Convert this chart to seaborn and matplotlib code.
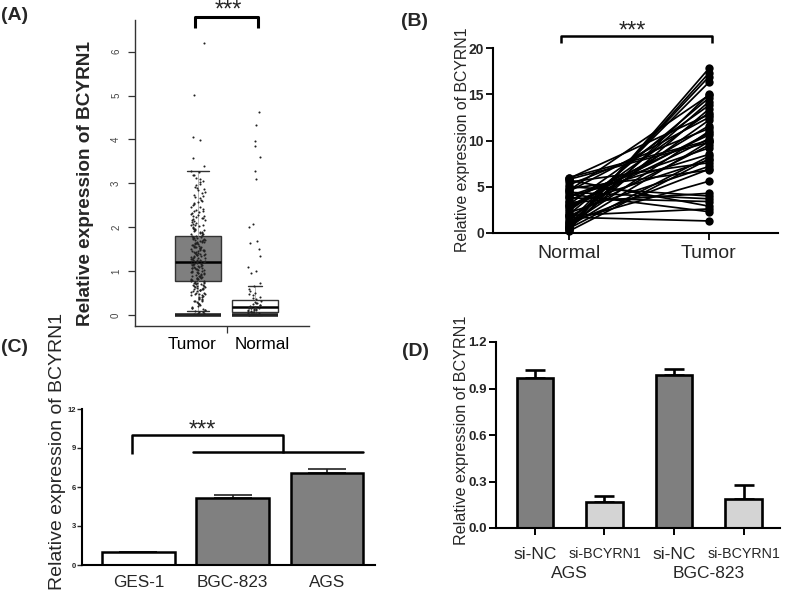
import matplotlib
matplotlib.use("Agg")
import matplotlib.pyplot as plt
import pandas as pd
import seaborn as sns

# ---------------- data ----------------
# (A) TCGA-style box/strip plot
groups_a = ["Tumor", "Normal"]
tumor_a = [0.03, 0.05, 0.07, 0.09, 0.11, 0.13, 0.16, 0.19, 0.21, 0.24, 0.26, 0.29, 0.31, 0.33,
           0.36, 0.38, 0.41, 0.43, 0.45, 0.47, 0.49, 0.51, 0.53, 0.55, 0.56, 0.58, 0.59, 0.61,
           0.62, 0.64, 0.65, 0.67, 0.68, 0.70, 0.71, 0.73, 0.74, 0.76, 0.77, 0.79, 0.80, 0.81,
           0.83, 0.84, 0.85, 0.87, 0.88, 0.89, 0.91, 0.92, 0.93, 0.95, 0.96, 0.97, 0.99, 1.00,
           1.01, 1.03, 1.04, 1.05, 1.07, 1.08, 1.09, 1.11, 1.12, 1.13, 1.15, 1.16, 1.17, 1.19,
           1.20, 1.21, 1.23, 1.24, 1.25, 1.27, 1.28, 1.30, 1.31, 1.33, 1.34, 1.36, 1.37, 1.39,
           1.41, 1.42, 1.44, 1.46, 1.47, 1.49, 1.51, 1.53, 1.55, 1.57, 1.59, 1.61, 1.63, 1.65,
           1.67, 1.69, 1.71, 1.73, 1.75, 1.77, 1.79, 1.82, 1.85, 1.88, 1.91, 1.94, 1.97, 2.00,
           2.04, 2.08, 2.12, 2.16, 2.20, 2.24, 2.28, 2.32, 2.37, 2.42, 2.47, 2.52, 2.57, 2.62,
           2.68, 2.74, 2.80, 2.86, 2.92, 2.98, 3.05, 3.12, 3.20, 3.27, 3.40, 3.58, 3.98, 4.05,
           5.02, 6.20,
           0.04, 0.08, 0.12, 0.17, 0.22, 0.27, 0.32, 0.37, 0.42, 0.46, 0.50, 0.54, 0.57, 0.60,
           0.63, 0.66, 0.69, 0.72, 0.75, 0.78, 0.82, 0.86, 0.90, 0.94, 0.98, 1.02, 1.06, 1.10,
           1.14, 1.18, 1.22, 1.26, 1.29, 1.32, 1.35, 1.38, 1.40, 1.43, 1.45, 1.48, 1.50, 1.52,
           1.54, 1.56, 1.58, 1.60, 1.62, 1.64, 1.66, 1.68, 1.70, 1.72, 1.74, 1.76, 1.78, 1.81,
           1.84, 1.87, 1.90, 1.93, 1.96, 1.99, 2.02, 2.06, 2.10, 2.14, 2.18, 2.22, 2.26, 2.30,
           2.35, 2.40, 2.45, 2.50, 2.55, 2.60, 2.66, 2.72, 2.78, 2.84, 2.90, 2.96, 3.03, 3.10,
           3.18, 3.25, 0.35, 0.48, 0.60, 0.72, 0.85, 0.96, 1.06, 1.16, 1.26, 1.36, 1.46, 1.56,
           1.66, 1.76, 1.86, 1.96, 2.06, 2.16, 2.26, 2.36]
normal_a = [0.00, 0.02, 0.04, 0.05, 0.06, 0.08, 0.09, 0.10, 0.11, 0.12, 0.13, 0.14, 0.15, 0.16,
            0.17, 0.18, 0.20, 0.22, 0.24, 0.27, 0.30, 0.33, 0.36, 0.40, 0.45, 0.50, 0.55, 0.60,
            0.66, 0.72, 0.95, 1.00, 1.10, 1.35, 1.50, 1.65, 1.68, 2.00, 2.07, 3.10, 3.27, 3.60,
            3.85, 3.97, 4.33, 4.62, 0.03, 0.07, 0.12, 0.15, 0.19, 0.23, 0.28, 0.38, 0.48]
q1_a = [0.78, 0.08]
med_a = [1.20, 0.18]
q3_a = [1.80, 0.35]
whislo_a = [0.10, 0.00]
whishi_a = [3.28, 0.67]
yticks_a = [0, 1, 2, 3, 4, 5, 6]

# (B) paired tissues
groups_b = ["Normal", "Tumor"]
normal_b = [0.3, 0.5, 0.8, 1.2, 0.4, 2.0, 1.0, 3.1, 0.6, 2.4, 4.5, 1.5, 5.2, 0.9, 3.5, 2.8,
            5.8, 1.8, 4.0, 6.0, 3.9, 0.2, 5.5, 2.2, 4.8, 1.3, 3.3, 5.0, 3.8, 5.7, 4.2, 1.7,
            2.6, 0.7, 4.6, 3.0, 5.9, 1.1, 2.9, 0.5, 4.4, 1.9]
tumor_b = [17.8, 17.3, 16.9, 16.3, 15.0, 14.6, 14.2, 13.8, 13.4, 13.0, 12.5, 12.2, 11.3, 11.0,
           10.6, 10.2, 9.8, 9.5, 9.2, 10.0, 8.5, 8.0, 7.6, 7.2, 6.8, 5.6, 4.3, 4.0, 3.4, 2.9,
           2.3, 1.3, 11.6, 9.9, 14.9, 7.9, 12.8, 6.9, 10.8, 8.3, 3.7, 2.6]
yticks_b = [0, 5, 10, 15, 20]

# (C) cell lines
cells_c = ["GES-1", "BGC-823", "AGS"]
mean_c = [1.0, 5.15, 7.08]
err_c = [0.03, 0.23, 0.30]
yticks_c = [0, 3, 6, 9, 12]

# (D) knockdown
lines_d = ["AGS", "AGS", "BGC-823", "BGC-823"]
treat_d = ["si-NC", "si-BCYRN1", "si-NC", "si-BCYRN1"]
mean_d = [0.97, 0.165, 0.985, 0.19]
err_d = [0.05, 0.04, 0.04, 0.09]
yticks_d = [0.0, 0.3, 0.6, 0.9, 1.2]

ylabel = "Relative expression of BCYRN1"

# ---------------- style ----------------
sns.set_theme(style="white")
plt.rcParams["font.family"] = ["Liberation Sans", "DejaVu Sans"]

W, H = 800, 603
fig = plt.figure(figsize=(8.0, 6.03), dpi=100)
fig.patch.set_facecolor("white")


def box(l, t, r, b):
    return [l / W, 1 - b / H, (r - l) / W, (b - t) / H]


def ftxt(x, y, s, **kw):
    fig.text(x / W, 1 - y / H, s, **kw)


# ---------------- (A) ----------------
axA = fig.add_axes(box(135, 20, 309, 326))
stats = [dict(label=g, q1=a, med=b, q3=c, whislo=d, whishi=e, fliers=[])
         for g, a, b, c, d, e in zip(groups_a, q1_a, med_a, q3_a, whislo_a, whishi_a)]
pos_a = list(range(len(groups_a)))
bp = axA.bxp(stats, positions=pos_a, widths=0.8, patch_artist=True, showfliers=False,
             capwidths=[0.38, 0.24], manage_ticks=False,
             boxprops=dict(edgecolor="#333333", linewidth=1.0),
             medianprops=dict(color="black", linewidth=1.8),
             whiskerprops=dict(color="#999999", linewidth=0.5),
             capprops=dict(color="#333333", linewidth=1.0))
for patch, fc in zip(bp["boxes"], ["#7f7f7f", "white"]):
    patch.set_facecolor(fc)
axA.hlines([0] * len(pos_a), [p - 0.4 for p in pos_a], [p + 0.4 for p in pos_a],
           color="#222222", lw=2.6, zorder=4)
dfA = pd.DataFrame({"group": [groups_a[0]] * len(tumor_a) + [groups_a[1]] * len(normal_a),
                    "value": tumor_a + normal_a})
sns.stripplot(data=dfA, x="group", y="value", order=groups_a, color="#222222", size=1.5,
              jitter=0.13, ax=axA, zorder=3)
axA.set_xlim(-1.105, 1.947)
axA.set_ylim(-0.25, 6.72)
axA.set_xlabel("")
axA.set_ylabel("")
axA.set_xticks([0.5])
axA.set_xticklabels([""])
axA.set_yticks(yticks_a)
axA.set_yticklabels([str(v) for v in yticks_a], rotation=90, va="center", fontsize=7,
                    color="#444444")
axA.tick_params(axis="both", direction="out", length=5, width=0.9, color="#333333",
                left=True, bottom=True, pad=5)
for s in ["top", "right"]:
    axA.spines[s].set_visible(False)
for s in ["left", "bottom"]:
    axA.spines[s].set_color("#333333")
    axA.spines[s].set_linewidth(1.0)
for p, g, off in zip(pos_a, groups_a, [-0.1, 0.12]):
    axA.text(p + off, -0.062, g, transform=axA.get_xaxis_transform(), ha="center",
             va="center", fontsize=12.3, color="black")
axA.plot([-0.05, -0.05, 1.05, 1.05], [6.54, 6.79, 6.79, 6.54], color="black", lw=2.2,
         clip_on=False, solid_capstyle="butt")
axA.text(0.53, 6.80, "***", ha="center", va="baseline", fontsize=17)
ftxt(86, 183, ylabel, rotation=90, ha="center", va="center", fontsize=13.7,
     fontweight="bold")

# ---------------- (B) ----------------
axB = fig.add_axes(box(493, 48, 778, 233))
rows = []
for i, (n, t) in enumerate(zip(normal_b, tumor_b)):
    rows.append(dict(pair=i, pos=0, value=n))
    rows.append(dict(pair=i, pos=1, value=t))
dfB = pd.DataFrame(rows)
sns.lineplot(data=dfB, x="pos", y="value", units="pair", estimator=None, sort=False,
             color="black", lw=1.25, marker="o", markersize=6, markeredgewidth=0,
             legend=False, ax=axB, clip_on=False)
axB.set_xlim(-0.543, 1.493)
axB.set_ylim(0, 20)
axB.set_xlabel("")
axB.set_ylabel("")
axB.set_xticks([0, 1])
axB.set_xticklabels(groups_b, fontsize=14)
axB.set_yticks(yticks_b)
axB.set_yticklabels([str(v) for v in yticks_b], fontsize=10, fontweight="bold")
axB.tick_params(axis="both", direction="out", length=5, width=1.3, color="black",
                left=True, bottom=True)
axB.tick_params(axis="x", pad=4)
axB.tick_params(axis="y", pad=1.5)
for s in ["top", "right"]:
    axB.spines[s].set_visible(False)
for s in ["left", "bottom"]:
    axB.spines[s].set_color("black")
    axB.spines[s].set_linewidth(1.5)
axB.plot([-0.06, -0.06, 1.02, 1.02], [20.5, 21.35, 21.35, 20.5], color="black", lw=1.8,
         clip_on=False, solid_capstyle="butt")
axB.text(0.45, 21.1, "***", ha="center", va="baseline", fontsize=17)
ftxt(462, 140, ylabel, rotation=90, ha="center", va="center", fontsize=11.4)

# ---------------- (C) ----------------
axC = fig.add_axes(box(82, 409, 375, 565))
sns.barplot(x=cells_c, y=mean_c, hue=cells_c, palette=["white", "#808080", "#808080"],
            legend=False, edgecolor="black", linewidth=1.8, width=0.77, errorbar=None,
            ax=axC, zorder=2)
pos_c = list(range(len(cells_c)))
axC.errorbar(pos_c, mean_c, yerr=[[0] * len(err_c), err_c], fmt="none", ecolor="#222222",
             elinewidth=1.2, capsize=14, capthick=1.2, zorder=1)
axC.set_xlim(-0.598, 2.508)
axC.set_ylim(0, 12)
axC.set_xlabel("")
axC.set_ylabel("")
axC.set_yticks(yticks_c)
axC.set_yticklabels([str(v) for v in yticks_c], fontsize=5.5, fontweight="bold")
axC.set_xticks(pos_c)
axC.set_xticklabels(cells_c, fontsize=12.3)
axC.tick_params(axis="y", direction="out", length=3.5, width=1.0, left=True, pad=0.8)
axC.tick_params(axis="x", length=0, pad=7.5)
for s in ["top", "right"]:
    axC.spines[s].set_visible(False)
for s in ["left", "bottom"]:
    axC.spines[s].set_color("black")
    axC.spines[s].set_linewidth(1.5)
axC.plot([-0.07, -0.07, 1.53, 1.53], [8.54, 10.0, 10.0, 8.6], color="black", lw=1.8,
         clip_on=False, solid_capstyle="butt")
axC.plot([0.577, 2.386], [8.7, 8.7], color="black", lw=1.8, clip_on=False)
axC.text(0.68, 9.9, "***", ha="center", va="baseline", fontsize=17)
ftxt(58, 451, ylabel, rotation=90, ha="center", va="center", fontsize=14)

# ---------------- (D) ----------------
axD = fig.add_axes(box(496, 342, 780, 528))
bars_d = [f"{l} {t}" for l, t in zip(lines_d, treat_d)]
sns.barplot(x=bars_d, y=mean_d, hue=treat_d, palette={"si-NC": "#7f7f7f", "si-BCYRN1": "#d4d4d4"},
            dodge=False, legend=False, edgecolor="black", linewidth=1.9, width=0.53,
            errorbar=None, ax=axD, zorder=2)
pos_d = list(range(len(bars_d)))
axD.errorbar(pos_d, mean_d, yerr=[[0] * len(err_d), err_d], fmt="none", ecolor="black",
             elinewidth=1.9, capsize=7.5, capthick=1.9, zorder=1)
axD.set_xlim(-0.561, 3.525)
axD.set_ylim(0, 1.2)
axD.set_xlabel("")
axD.set_ylabel("")
axD.set_yticks(yticks_d)
axD.set_yticklabels([f"{v:.1f}" for v in yticks_d], fontsize=9.5, fontweight="bold")
axD.set_xticks(pos_d)
axD.set_xticklabels(treat_d, fontsize=12.5)
for lab, t in zip(axD.get_xticklabels(), treat_d):
    if t == "si-BCYRN1":
        lab.set_fontsize(10.3)
axD.tick_params(axis="both", direction="out", length=5, width=1.4, color="black",
                left=True, bottom=True)
axD.tick_params(axis="x", pad=9)
axD.tick_params(axis="y", pad=1.5)
for s in ["top", "right"]:
    axD.spines[s].set_visible(False)
for s in ["left", "bottom"]:
    axD.spines[s].set_color("black")
    axD.spines[s].set_linewidth(1.5)
groups_d = list(dict.fromkeys(lines_d))
for g in groups_d:
    idx = [i for i, l in enumerate(lines_d) if l == g]
    axD.text(sum(idx) / len(idx), -0.242, g, transform=axD.get_xaxis_transform(),
             ha="center", va="center", fontsize=12.5)
ftxt(461, 430, ylabel, rotation=90, ha="center", va="center", fontsize=11.6)

# ---------------- panel letters ----------------
for lab, x, y in [("(A)", 1, 16), ("(B)", 401, 22), ("(C)", 1, 347), ("(D)", 402, 352)]:
    ftxt(x, y, lab, ha="left", va="center", fontsize=14, fontweight="bold")

fig.savefig("out.png", dpi=100, facecolor="white")
